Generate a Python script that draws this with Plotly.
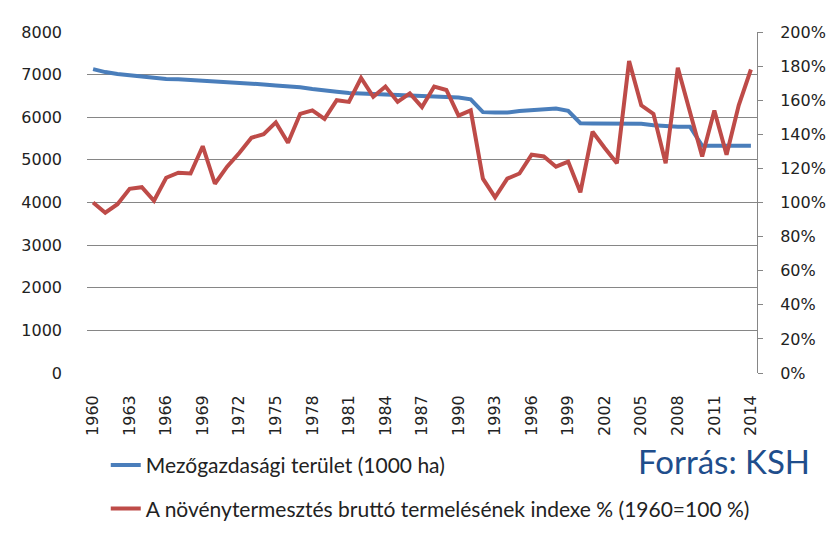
import plotly.graph_objects as go

years = list(range(1960, 2015))

# Mezőgazdasági terület (1000 ha)
terulet = [7130, 7060, 7015, 6980, 6955, 6915, 6895, 6890, 6875, 6855,
           6850, 6835, 6810, 6785, 6770, 6745, 6735, 6705, 6665, 6625,
           6600, 6570, 6560, 6540, 6540, 6525, 6520, 6505, 6485, 6480,
           6465, 6420, 6120, 6110, 6110, 6145, 6165, 6205, 6205, 6150,
           5860, 5855, 5855, 5855, 5855, 5850, 5815, 5795, 5780, 5780,
           5330, 5330, 5330, 5330, 5330]

# növénytermesztés bruttó termelésének indexe % (1960=100)
index = [100, 94, 99, 108, 109, 101, 114.5, 117.5, 117, 133,
         111, 121, 129, 138, 140, 147, 135, 152, 154, 149,
         160, 159, 173, 162, 168, 159, 164, 156, 168, 166,
         151, 154, 114, 103, 114, 117, 128, 127, 121, 124,
         106, 141.5, 132, 123, 183, 157, 152, 123, 179, 152,
         127, 154, 128, 157, 178]

tick_years = list(range(1960, 2015, 3))

tick_font = dict(family="DejaVu Sans", size=16, color="#222222")
leg_font = dict(family="Lato", size=21, color="#222222")

fig = go.Figure()

fig.add_trace(go.Scatter(
    x=years, y=terulet,
    name="Mezőgazdasági terület (1000 ha)",
    mode="lines",
    line=dict(color="#4A7EBB", width=4),
    legendgroup="a"
))

fig.add_trace(go.Scatter(
    x=years, y=index,
    name="A növénytermesztés bruttó termelésének indexe % (1960=100 %)",
    mode="lines",
    line=dict(color="#BE4B48", width=4),
    yaxis="y2",
    legendgroup="b"
))

# page body has an 8px margin, so the figure is a bit smaller
fig.update_layout(
    width=831, height=525,
    margin=dict(l=79, r=82, t=24, b=160, autoexpand=False),
    paper_bgcolor="white",
    plot_bgcolor="white",
    showlegend=True,
    legend=dict(
        x=0.028, y=-0.211, xanchor="left", yanchor="top",
        orientation="v",
        font=leg_font,
        tracegroupgap=13,
        bgcolor="rgba(0,0,0,0)"
    ),
    xaxis=dict(
        range=[1959.5, 2014.5],
        tickvals=tick_years,
        ticktext=[str(y) for y in tick_years],
        tickangle=-90,
        tickfont=tick_font,
        showgrid=False,
        showline=False,
        ticks="",
        zeroline=False,
        automargin=False,
        ticklabelstandoff=18
    ),
    yaxis=dict(
        range=[0, 8000],
        dtick=1000,
        tickfont=tick_font,
        showgrid=True,
        gridcolor="#868686",
        gridwidth=1,
        zeroline=False,
        showline=False,
        ticks="",
        automargin=False,
        ticklabelstandoff=24
    ),
    yaxis2=dict(
        range=[0, 200],
        dtick=20,
        ticksuffix="%",
        overlaying="y",
        side="right",
        tickfont=tick_font,
        showgrid=False,
        zeroline=False,
        showline=True,
        linecolor="#868686",
        ticks="outside",
        ticklen=5,
        tickcolor="#868686",
        automargin=False,
        ticklabelstandoff=14
    ),
    annotations=[dict(
        text="Forrás: KSH",
        xref="paper", yref="paper",
        x=1.082, y=-0.194, xanchor="right", yanchor="top",
        showarrow=False,
        font=dict(family="Lato", size=33, color="#1F4E8C")
    )]
)

fig.write_html("out.html")
